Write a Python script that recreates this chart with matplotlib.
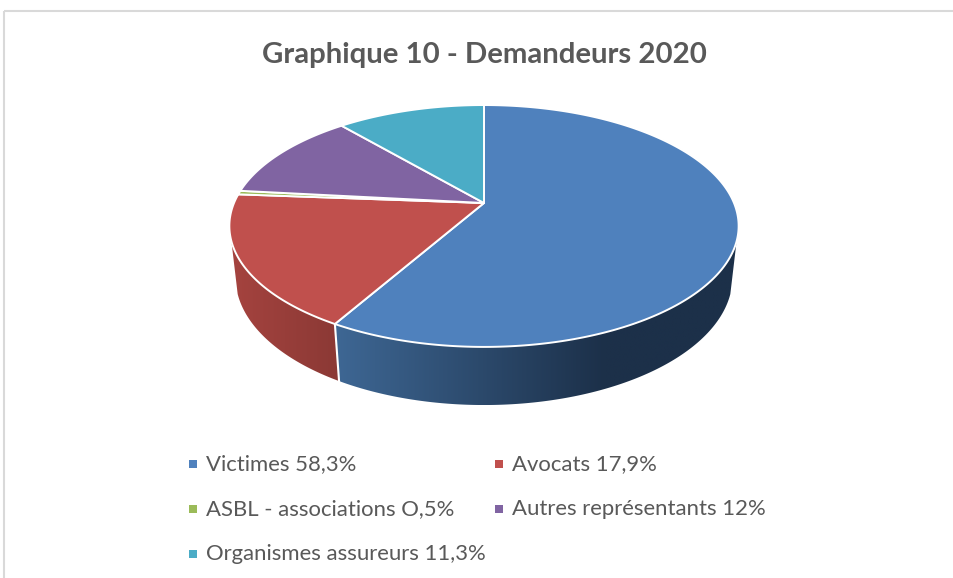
import numpy as np
import matplotlib
matplotlib.use("Agg")
import matplotlib.pyplot as plt
from matplotlib.patches import Polygon, Rectangle

title = "Graphique 10 - Demandeurs 2020"
labels = ["Victimes 58,3%", "Avocats 17,9%", "ASBL - associations O,5%",
          "Autres représentants 12%", "Organismes assureurs 11,3%"]
values = [58.3, 17.9, 0.5, 12, 11.3]
colors = ["#4F81BD", "#C0504D", "#9BBB59", "#8064A2", "#4BACC6"]
# wall gradient, left to right
wall_colors = {0: ("#3E6794", "#1C3049"), 1: ("#A5433F", "#8B3935")}

plt.rcParams["font.family"] = ["Lato", "DejaVu Sans"]
text_color = "#595959"

# perspective of the disc, in image pixels
CX, CY = 484, 203
RX, PERSP, RY = 250, 0.19, 78
DEPTH_Y, DEPTH_W = 56.8, 0.024


def project(theta, level=0.0):
    # theta clockwise from the top of the pie, level 0 = top face, 1 = bottom
    u, v = np.sin(theta), np.cos(theta)
    w = 1 + PERSP * v + DEPTH_W * level
    return CX + RX * u / w, (CY - RY * v + DEPTH_Y * level) / w


def arc(a, b):
    n = max(int(abs(b - a) * 120), 2)
    return np.linspace(a, b, n)


fig = plt.figure(figsize=(9.54, 5.78), dpi=100)
ax = fig.add_axes([0, 0, 1, 1])
ax.set_xlim(0, 954)
ax.set_ylim(578, 0)
ax.axis("off")

# chart border
ax.add_patch(Rectangle((4, 11), 960, 580, fill=False, ec="#D9D9D9", lw=1.5))

ax.text(484.5, 54.5, title, ha="center", va="center", fontsize=21.2,
        fontweight="bold", color=text_color)

angles = np.concatenate([[0], np.cumsum(values)]) / sum(values) * 2 * np.pi
vis_start, vis_end = np.radians(108), np.radians(252)

# side walls
for i in wall_colors:
    a = max(angles[i], vis_start)
    b = min(angles[i + 1], vis_end)
    t = arc(a, b)
    xt, yt = project(t)
    xb, yb = project(t, 1)
    xs = np.concatenate([xt, xb[::-1]])
    ys = np.concatenate([yt, yb[::-1]])
    clip = Polygon(np.column_stack([xs, ys]), closed=True, transform=ax.transData)
    left, right = matplotlib.colors.to_rgb(wall_colors[i][0]), matplotlib.colors.to_rgb(wall_colors[i][1])
    if i == 0:
        # blue goes dark well before the right end
        stops = np.clip((np.linspace(xs.min(), xs.max(), 256) - xs.min()) / 270.0, 0, 1)
    else:
        stops = np.linspace(0, 1, 256)
    grad = np.array([[np.array(left) * (1 - s) + np.array(right) * s for s in stops]])
    im = ax.imshow(grad, extent=(xs.min(), xs.max(), ys.max(), ys.min()),
                   aspect="auto", interpolation="bilinear", zorder=2)
    im.set_clip_path(clip)
    # edge between the walls
    if angles[i + 1] < vis_end:
        xa, ya = project(angles[i + 1])
        xc, yc = project(angles[i + 1], 1)
        ax.plot([xa, xc], [ya, yc], color="white", lw=1.5, zorder=3)

ax.set_xlim(0, 954)
ax.set_ylim(578, 0)

# top face
for i in range(len(values)):
    t = arc(angles[i], angles[i + 1])
    x, y = project(t)
    xs = np.concatenate([[CX], x])
    ys = np.concatenate([[CY], y])
    ax.fill(xs, ys, facecolor=colors[i], edgecolor="white", lw=1.4,
            joinstyle="round", zorder=4)

# legend
col_x = [189, 495]
row_y = [464, 509, 554]
for i, lab in enumerate(labels):
    x = col_x[i % 2]
    y = row_y[i // 2]
    ax.add_patch(Rectangle((x, y - 4.5), 8, 8, fc=colors[i], ec="none"))
    ax.text(x + 17.3, y, lab, ha="left", va="center", fontsize=15.95, color=text_color)

fig.savefig("out.png", dpi=100)
